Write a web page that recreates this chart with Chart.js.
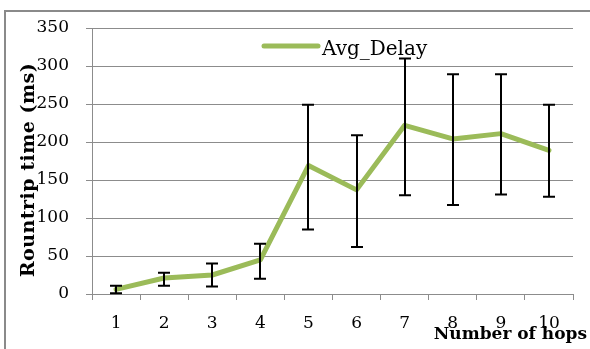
<!DOCTYPE html>
<html><head><meta charset="utf-8">
<script src="https://cdn.jsdelivr.net/npm/chart.js@4"></script>
<style>html,body{margin:0;padding:0;background:#fff}</style>
</head><body>
<canvas id="c" width="590" height="349"></canvas>
<script>
const categories = ['1','2','3','4','5','6','7','8','9','10'];
const avgDelay = [6, 21, 25, 45, 169, 137, 222, 204, 211, 189];
const errLow  = [1, 11, 10, 20, 85, 62, 130, 117, 131, 128];
const errHigh = [11, 28, 40, 66, 249, 209, 310, 289, 289, 249];
const yTicks = [0, 50, 100, 150, 200, 250, 300, 350];
const seriesName = 'Avg_Delay';
const xTitle = 'Number of hops';
const yTitle = 'Rountrip time (ms)';

const FONT = '"DejaVu Serif", serif';
const GREEN = '#9BBB59';
const GRID = '#8c8c8c';

const extras = {
  id: 'extras',
  beforeDraw(chart) {
    const ctx = chart.ctx;
    ctx.save();
    ctx.strokeStyle = '#8a8a8a';
    ctx.lineWidth = 2;
    ctx.strokeRect(5, 11, 700, 500);
    ctx.restore();
  },
  afterDatasetsDraw(chart) {
    const ctx = chart.ctx;
    const xs = chart.scales.x, ys = chart.scales.y;
    ctx.save();
    ctx.strokeStyle = '#000';
    ctx.lineWidth = 2;
    for (let i = 0; i < categories.length; i++) {
      const x = Math.round(xs.getPixelForValue(i));
      const yl = ys.getPixelForValue(errLow[i]);
      const yh = ys.getPixelForValue(errHigh[i]);
      ctx.beginPath();
      ctx.moveTo(x, yl); ctx.lineTo(x, yh);
      ctx.moveTo(x - 6, yl); ctx.lineTo(x + 6, yl);
      ctx.moveTo(x - 6, yh); ctx.lineTo(x + 6, yh);
      ctx.stroke();
    }
    ctx.restore();
  },
  afterDraw(chart) {
    const ctx = chart.ctx;
    ctx.save();
    // legend
    ctx.strokeStyle = GREEN;
    ctx.lineWidth = 5;
    ctx.lineCap = 'round';
    ctx.beginPath();
    ctx.moveTo(264, 46); ctx.lineTo(318, 46);
    ctx.stroke();
    ctx.fillStyle = '#000';
    ctx.font = '20px ' + FONT;
    ctx.textAlign = 'left';
    ctx.textBaseline = 'alphabetic';
    ctx.fillText(seriesName, 322, 55);
    // x title
    ctx.font = 'bold 17px ' + FONT;
    ctx.textAlign = 'right';
    ctx.fillText(xTitle, 587, 339);
    // y title
    ctx.translate(34, 170);
    ctx.rotate(-Math.PI / 2);
    ctx.textAlign = 'center';
    ctx.font = 'bold 19px ' + FONT;
    ctx.letterSpacing = '0.5px';
    ctx.fillText(yTitle, 0, 0);
    ctx.restore();
  }
};

new Chart(document.getElementById('c'), {
  type: 'line',
  data: {
    labels: categories,
    datasets: [{
      label: seriesName,
      data: avgDelay,
      borderColor: GREEN,
      backgroundColor: GREEN,
      borderWidth: 5,
      borderCapStyle: 'round',
      borderJoinStyle: 'round',
      pointRadius: 0,
      tension: 0,
      fill: false
    }]
  },
  options: {
    responsive: false,
    devicePixelRatio: 1,
    animation: false,
    layout: { padding: { top: 28, right: 17, left: 0, bottom: 0 } },
    plugins: { legend: { display: false }, tooltip: { enabled: false } },
    scales: {
      x: {
        offset: true,
        grid: { offset: true, drawOnChartArea: false, drawTicks: true, tickLength: 6, color: GRID, lineWidth: 1 },
        border: { color: GRID, width: 1 },
        ticks: { color: '#000', font: { family: FONT, size: 17 }, padding: 13, maxRotation: 0 },
        afterFit(s) { s.height = 55; }
      },
      y: {
        min: 0, max: 350,
        afterBuildTicks(s) { s.ticks = yTicks.map(v => ({ value: v })); },
        grid: { color: GRID, lineWidth: 1, tickLength: 6 },
        border: { color: GRID, width: 1 },
        ticks: { color: '#000', font: { family: FONT, size: 17 }, padding: 17 },
        afterFit(s) { s.width = 92; }
      }
    }
  },
  plugins: [extras]
});
</script>
</body></html>
